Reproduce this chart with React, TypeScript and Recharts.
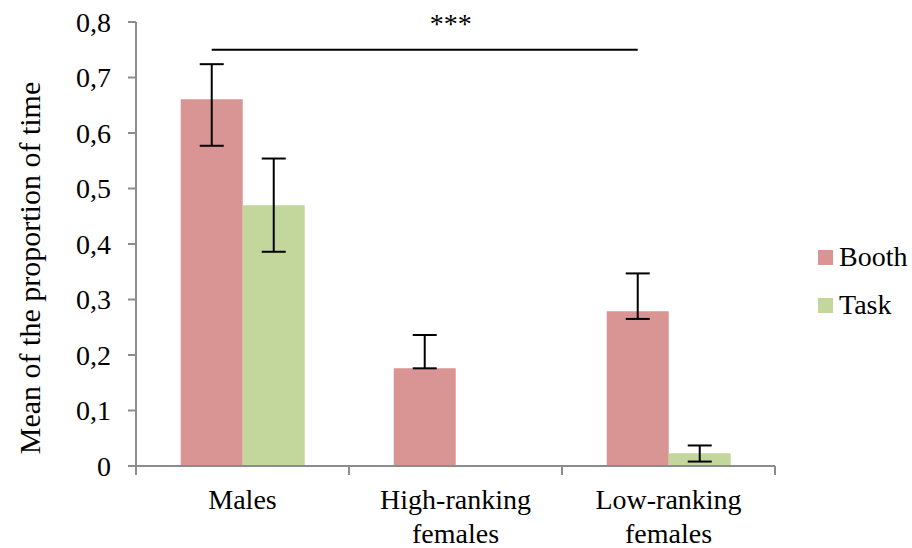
import { BarChart, Bar, XAxis, YAxis, ErrorBar, ReferenceLine } from 'recharts';

const groups = ['Males', 'High-ranking females', 'Low-ranking females'];
const booth = [0.661, 0.176, 0.279];
const boothErr: [number, number][] = [[0.084, 0.063], [0, 0.06], [0.014, 0.068]];
const task = [0.47, 0, 0.023];
const taskErr: [number, number][] = [[0.084, 0.084], [0, 0], [0.015, 0.014]];
const yTicks = [0, 0.1, 0.2, 0.3, 0.4, 0.5, 0.6, 0.7, 0.8];
const seriesNames = ['Booth', 'Task'];

const BOOTH_COLOR = '#D99594';
const TASK_COLOR = '#C3D69B';
const AXIS_COLOR = '#8c8c8c';
const FONT = '"Liberation Serif", "Times New Roman", serif';

const rows = groups.map((g, i) => ({
  group: g,
  booth: booth[i],
  boothErr: boothErr[i],
  task: task[i],
  taskErr: taskErr[i],
}));

const fmt = (v: number) => (v === 0 ? '0' : v.toFixed(1).replace('.', ','));

// category label split on the first space, with boundary tick marks
const GroupTick = (props: any) => {
  const { x, y, payload } = props;
  const band = 213;
  const txt: string = payload.value;
  const idx = txt.indexOf(' ');
  const lines = idx > 0 ? [txt.slice(0, idx), txt.slice(idx + 1)] : [txt];
  return (
    <g>
      <line x1={x - band / 2} x2={x - band / 2} y1={y - 8} y2={y + 1} stroke={AXIS_COLOR} strokeWidth={2} />
      <line x1={x + band / 2} x2={x + band / 2} y1={y - 8} y2={y + 1} stroke={AXIS_COLOR} strokeWidth={2} />
      <text x={x} y={y + 35} textAnchor="middle" fontFamily={FONT} fontSize={28} fill="#000">
        {lines.map((l, i) => (
          <tspan key={i} x={x} dy={i === 0 ? 0 : 34}>{l}</tspan>
        ))}
      </text>
    </g>
  );
};

const YTitle = (props: any) => {
  const { viewBox } = props;
  const cx = 29;
  const cy = viewBox.y + viewBox.height / 2 + 24;
  return (
    <text x={cx} y={cy} transform={`rotate(-90, ${cx}, ${cy})`} textAnchor="middle"
      dominantBaseline="central" fontFamily={FONT} fontSize={30} fill="#000">
      Mean of the proportion of time
    </text>
  );
};

// significance bracket between the two Booth bars
const SigLine = (props: any) => {
  const { x1, y1, x2 } = props;
  const half = 30.8;
  const a = x1 - half;
  const b = x2 - half;
  return (
    <g>
      <line x1={a} x2={b} y1={y1} y2={y1} stroke="#000" strokeWidth={2} />
      <text x={(a + b) / 2 + 26} y={y1 - 17} textAnchor="middle" fontFamily={FONT} fontSize={28} fill="#000">***</text>
    </g>
  );
};

const LegendBox = () => (
  <div style={{ position: 'absolute', left: 818, top: 233, fontFamily: FONT, fontSize: 28, color: '#000', lineHeight: 1 }}>
    {seriesNames.map((name, i) => (
      <div key={name} style={{ display: 'flex', alignItems: 'center', height: 48 }}>
        <span style={{ width: 15, height: 15, background: i === 0 ? BOOTH_COLOR : TASK_COLOR, marginRight: 6, display: 'inline-block' }} />
        <span>{name}</span>
      </div>
    ))}
  </div>
);

export default function App() {
  return (
    <div style={{ position: 'fixed', left: 0, top: 0, width: 912, height: 548, background: '#fff' }}>
      <BarChart
        width={912}
        height={548}
        data={rows}
        margin={{ top: 22, right: 137, bottom: 0, left: 0 }}
        barCategoryGap="21%"
        barGap={0}
      >
        <YAxis
          width={136}
          domain={[0, 0.8]}
          ticks={yTicks}
          tickFormatter={fmt}
          axisLine={{ stroke: AXIS_COLOR, strokeWidth: 2 }}
          tickLine={{ stroke: AXIS_COLOR, strokeWidth: 2 }}
          tickSize={8}
          tickMargin={17}
          tick={{ fontFamily: FONT, fontSize: 28, fill: '#000' }}
          label={<YTitle />}
          interval={0}
        />
        <XAxis
          dataKey="group"
          height={82}
          axisLine={{ stroke: AXIS_COLOR, strokeWidth: 2 }}
          tickLine={false}
          tick={<GroupTick />}
          interval={0}
        />
        <ReferenceLine
          segment={[{ x: groups[0], y: 0.75 }, { x: groups[2], y: 0.75 }]}
          shape={<SigLine />}
          ifOverflow="visible"
        />
        <Bar dataKey="booth" name="Booth" fill={BOOTH_COLOR} isAnimationActive={false}>
          <ErrorBar dataKey="boothErr" width={12} stroke="#000" strokeWidth={2} direction="y" />
        </Bar>
        <Bar dataKey="task" name="Task" fill={TASK_COLOR} isAnimationActive={false}>
          <ErrorBar dataKey="taskErr" width={12} stroke="#000" strokeWidth={2} direction="y" />
        </Bar>
      </BarChart>
      <LegendBox />
    </div>
  );
}
